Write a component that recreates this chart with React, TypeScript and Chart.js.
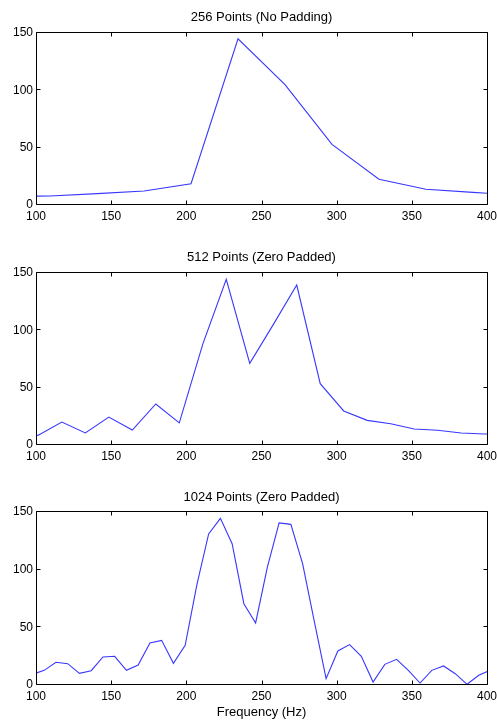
import React, { useEffect, useRef } from "react";
import { Chart, registerables } from "chart.js";

Chart.register(...registerables);

// ---- data ----
const titles = ["256 Points (No Padding)", "512 Points (Zero Padded)", "1024 Points (Zero Padded)"];
const xLabel = "Frequency (Hz)";
const xTicks = [100, 150, 200, 250, 300, 350, 400];
const yTicks = [0, 50, 100, 150];

const freq256 = [78.13, 109.38, 140.63, 171.88, 203.13, 234.38, 265.63, 296.88, 328.13, 359.38, 390.63, 421.88];
const mag256 = [7.5, 7.8, 9.9, 12.2, 18.6, 145, 105, 52.9, 22.4, 13.7, 11.0, 8.5];

const freq512 = [85.94, 101.56, 117.19, 132.81, 148.44, 164.06, 179.69, 195.31, 210.94, 226.56, 242.19, 257.81, 273.44, 289.06, 304.69, 320.31, 335.94, 351.56, 367.19, 382.81, 398.44, 414.06];
const mag512 = [6, 8.6, 20, 10.5, 24.4, 13, 35.8, 19.3, 88, 144.5, 71.2, 105, 139.5, 53.5, 29.7, 21.5, 18.6, 14, 12.8, 10.5, 9.6, 9];

const freq1024 = [97.66, 105.47, 113.28, 121.09, 128.91, 136.72, 144.53, 152.34, 160.16, 167.97, 175.78, 183.59, 191.41, 199.22, 207.03, 214.84, 222.66, 230.47, 238.28, 246.09, 253.91, 261.72, 269.53, 277.34, 285.16, 292.97, 300.78, 308.59, 316.41, 324.22, 332.03, 339.84, 347.66, 355.47, 363.28, 371.09, 378.91, 386.72, 394.53, 402.34];
const mag1024 = [9.2, 12.7, 19.7, 18.5, 10.1, 12.4, 24.3, 24.9, 12.7, 17.3, 36.4, 38.7, 18.8, 34.4, 87, 131, 144.5, 122.5, 70.5, 53.8, 102.3, 140.5, 139.3, 105.2, 55, 5.5, 29.5, 35, 24.9, 2.6, 17.9, 22.3, 12.7, 1.7, 12.7, 16.5, 9.8, 0.6, 8.4, 13];

const FONT = "'Liberation Sans', Arial, Helvetica, sans-serif";
const LINE_COLOR = "rgb(55,55,255)";

const boxTicksPlugin = {
  id: "boxTicks",
  afterDatasetsDraw(chart: any) {
    const { ctx, chartArea, scales } = chart;
    const l = Math.floor(chartArea.left) + 0.5;
    const r = Math.floor(chartArea.right) + 0.5;
    const t = Math.floor(chartArea.top) - 0.5;
    const b = Math.floor(chartArea.bottom) - 0.5;
    ctx.save();
    ctx.strokeStyle = "#000";
    ctx.lineWidth = 1;
    ctx.beginPath();
    ctx.rect(l, t, r - l, b - t);
    const len = 4;
    for (const v of xTicks) {
      const px = Math.round(scales.x.getPixelForValue(v)) + 0.5;
      ctx.moveTo(px, b);
      ctx.lineTo(px, b - len);
      ctx.moveTo(px, t);
      ctx.lineTo(px, t + len);
    }
    for (const v of yTicks) {
      const py = Math.round(scales.y.getPixelForValue(v)) - 0.5;
      ctx.moveTo(l, py);
      ctx.lineTo(l + len, py);
      ctx.moveTo(r, py);
      ctx.lineTo(r - len, py);
    }
    ctx.stroke();
    ctx.restore();
  },
};

function Panel(props: { title: string; freq: number[]; mag: number[]; height: number; top: number; showXLabel: boolean; titleBox: number }) {
  const ref = useRef<HTMLCanvasElement | null>(null);
  useEffect(() => {
    if (!ref.current) return;
    const xAxisH = props.height - props.titleBox - (props.showXLabel ? 173 : 172);
    const chart = new Chart(ref.current, {
      type: "line",
      data: {
        datasets: [
          {
            data: props.freq.map((f, i) => ({ x: f, y: props.mag[i] })),
            borderColor: LINE_COLOR,
            borderWidth: 1.1,
            pointRadius: 0,
            tension: 0,
            fill: false,
          },
        ],
      },
      options: {
        responsive: false,
        animation: false,
        devicePixelRatio: 1,
        layout: { padding: { left: 0, right: 10, top: 0, bottom: 0 } },
        plugins: {
          legend: { display: false },
          tooltip: { enabled: false },
          title: {
            display: true,
            text: props.title,
            fullSize: false,
            color: "#000",
            font: { family: FONT, size: 13, weight: "normal" as any, lineHeight: 1.2 },
            padding: { top: 9.7, bottom: props.titleBox - 9.7 - 15.6 },
          },
        },
        scales: {
          x: {
            type: "linear",
            min: 100,
            max: 400,
            afterFit: (s: any) => {
              s.height = xAxisH;
              s.paddingLeft = 0;
              s.paddingRight = 0;
            },
            afterBuildTicks: (s: any) => {
              s.ticks = xTicks.map((v) => ({ value: v }));
            },
            ticks: {
              color: "#000",
              font: { family: FONT, size: 12 },
              padding: 4,
              maxRotation: 0,
              autoSkip: false,
            },
            grid: { display: false, drawTicks: false },
            border: { display: false },
            title: {
              display: props.showXLabel,
              text: xLabel,
              color: "#000",
              font: { family: FONT, size: 13, lineHeight: 1.2 },
              padding: { top: 0, bottom: 1 },
            },
          },
          y: {
            type: "linear",
            min: 0,
            max: 150,
            afterFit: (s: any) => {
              s.width = 36;
              s.paddingTop = 0;
              s.paddingBottom = 0;
            },
            afterBuildTicks: (s: any) => {
              s.ticks = yTicks.map((v) => ({ value: v }));
            },
            ticks: {
              color: "#000",
              font: { family: FONT, size: 12 },
              padding: 3,
              autoSkip: false,
            },
            grid: { display: false, drawTicks: false },
            border: { display: false },
          },
        },
      },
      plugins: [boxTicksPlugin],
    });
    return () => chart.destroy();
  }, []);
  return (
    <canvas
      ref={ref}
      width={497}
      height={props.height}
      style={{ position: "absolute", left: 0, top: props.top, width: 497, height: props.height, display: "block" }}
    />
  );
}

export default function App() {
  return (
    <div style={{ position: "absolute", left: 0, top: 0, width: 497, height: 721, background: "#fff" }}>
      <Panel title={titles[0]} freq={freq256} mag={mag256} height={240} top={0} showXLabel={false} titleBox={33} />
      <Panel title={titles[1]} freq={freq512} mag={mag512} height={240} top={240} showXLabel={false} titleBox={33} />
      <Panel title={titles[2]} freq={freq1024} mag={mag1024} height={241} top={480} showXLabel={true} titleBox={32} />
    </div>
  );
}
